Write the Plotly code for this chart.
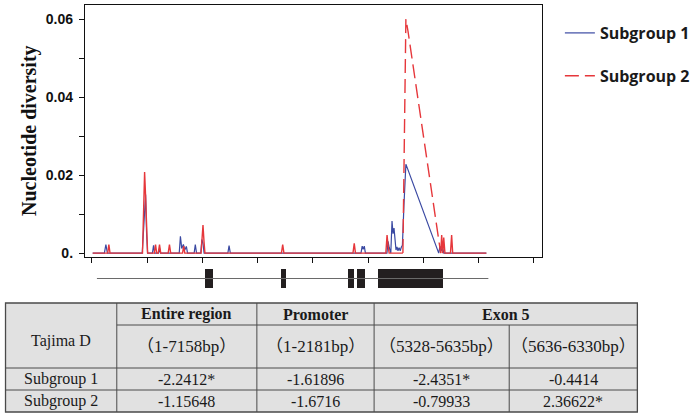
import plotly.graph_objects as go

# ---------------- data ----------------
# Subgroup 1 nucleotide diversity along the region (position bp, pi)
sub1_pos = [13, 225, 252, 280, 910, 935, 953, 971, 989, 1007,
            1095, 1115, 1135, 1205, 1223, 1241, 1580, 1601, 1625, 1655,
            1680, 1709, 1730, 1850, 1871, 1893, 1970, 1990, 2010, 2030,
            2460, 2482, 2505, 4870, 4892, 4910, 4930, 4950, 5340, 5360,
            5380, 5410, 5432, 5450, 5468, 5486, 5504, 5522, 5540, 5560,
            5580, 5600, 5620, 5647, 5665, 5683, 6277, 6300, 6320, 6345,
            6370, 7140]
sub1_pi = [0, 0, 0.0022, 0, 0, 0.006, 0.010, 0.015, 0.005, 0,
           0, 0.002, 0, 0, 0.0012, 0, 0, 0.0043, 0.0012, 0.0022,
           0.0008, 0.0017, 0, 0, 0.0022, 0, 0, 0.0035, 0.0025, 0,
           0, 0.0019, 0, 0, 0.0018, 0.001, 0.0018, 0, 0, 0.003,
           0.0015, 0, 0.0082, 0.005, 0.0064, 0.003, 0.0008, 0.0016, 0.0006, 0.0014,
           0.0006, 0.0015, 0.002, 0.012, 0.016, 0.0228, 0, 0.0018, 0.0005, 0.0015,
           0, 0]

# Subgroup 2
sub2_pos = [13, 285, 306, 327, 915, 935, 953, 971, 989, 1007,
            1130, 1151, 1172, 1200, 1223, 1245, 1380, 1403, 1425, 1640,
            1660, 1680, 1975, 1996, 2010, 2028, 2045, 3430, 3453, 3475,
            4725, 4748, 4770, 5320, 5342, 5360, 5380, 5629, 5683, 5720,
            6313, 6331, 6350, 6368, 6390, 6490, 6511, 6530, 7140]
sub2_pi = [0, 0, 0.0022, 0, 0, 0.0105, 0.0208, 0.0145, 0.005, 0,
           0, 0.0022, 0, 0, 0.0022, 0, 0, 0.0022, 0, 0,
           0.0018, 0, 0, 0.0045, 0.0072, 0.003, 0, 0, 0.0022, 0,
           0, 0.0025, 0, 0, 0.0046, 0.002, 0, 0, 0.060, 0.057,
           0, 0.0046, 0, 0.004, 0, 0, 0.0046, 0, 0]

# extent of the large exon-5 peak (drawn dashed in the original)
peak_lo, peak_hi = 5629, 6313

# gene structure (bp)
gene_span = [90, 7176]
exon_start = [2050, 3417, 4640, 4802, 5180]
exon_end = [2194, 3507, 4748, 4946, 6349]

# axis ticks
x_ticks = [0, 1000, 2000, 3000, 4000, 5000, 6000, 7000, 8000]
y_ticks = [0, 0.02, 0.04, 0.06]
y_ticktext = ["0.", "0.02", "0.04", "0.06"]
y_minor = [0.01, 0.03, 0.05]

# Tajima D table
table_corner = "Tajima D"
table_regions = ["Entire region", "Promoter", "Exon 5"]
table_ranges = ["（1-7158bp）", "（1-2181bp）", "（5328-5635bp）", "（5636-6330bp）"]
table_groups = ["Subgroup 1", "Subgroup 2"]
tajima_sub1 = ["-2.2412*", "-1.61896", "-2.4351*", "-0.4414"]
tajima_sub2 = ["-1.15648", "-1.6716", "-0.79933", "2.36622*"]

# ---------------- layout helpers ----------------
W, H = 700, 418
ML, MR, MT, MB = 85, 155, 5, 123
PW = W - ML - MR
PH = H - MT - MB


def px(xp):
    return (xp - ML) / PW


def py(yp):
    return (H - MB - yp) / PH


blue = "#3a49a2"
red = "#e6373b"

fig = go.Figure()

fig.add_trace(go.Scatter(x=sub1_pos, y=sub1_pi, mode="lines", name="Subgroup 1",
                         legendgroup="g1", line=dict(color=blue, width=1.2)))

solid_y = [None if peak_lo < p < peak_hi else v for p, v in zip(sub2_pos, sub2_pi)]
fig.add_trace(go.Scatter(x=sub2_pos, y=solid_y, mode="lines", showlegend=False,
                         legendgroup="g2", hoverinfo="skip",
                         line=dict(color=red, width=1.4)))
dash_x = [p for p in sub2_pos if peak_lo <= p <= peak_hi]
dash_y = [v for p, v in zip(sub2_pos, sub2_pi) if peak_lo <= p <= peak_hi]
fig.add_trace(go.Scatter(x=dash_x, y=dash_y, mode="lines", name="Subgroup 2",
                         legendgroup="g2", line=dict(color=red, width=1.4, dash="14px,6px")))

# gene model
fig.add_trace(go.Scatter(x=gene_span, y=[0, 0], yaxis="y2", mode="lines",
                         line=dict(color="#6a6a6a", width=1), showlegend=False, hoverinfo="skip"))
fig.add_trace(go.Bar(y=[0] * len(exon_start), x=[e - s for s, e in zip(exon_start, exon_end)],
                     base=exon_start, orientation="h", yaxis="y2", width=1.1,
                     marker=dict(color="#231f20", line=dict(width=0)), showlegend=False))

fig.update_layout(
    width=W, height=H,
    margin=dict(l=ML, r=MR, t=MT, b=MB),
    paper_bgcolor="white", plot_bgcolor="white",
    showlegend=True,
    legend=dict(x=px(563), y=py(16), xanchor="left", yanchor="top",
                font=dict(family="Open Sans", size=16, color="#1a1a1a", weight="bold"),
                tracegroupgap=19, bgcolor="rgba(0,0,0,0)", itemwidth=30),
    xaxis=dict(range=[-126, 8147], domain=[0, 1], anchor="y",
               showline=True, mirror=True, linecolor="#111", linewidth=1.3,
               ticks="outside", tickvals=x_ticks, ticklen=5, tickcolor="#111",
               showticklabels=False, showgrid=False, zeroline=False),
    yaxis=dict(range=[-0.001, 0.0636], domain=[py(257), 1], anchor="x",
               showline=True, mirror=True, linecolor="#111", linewidth=1.3,
               ticks="outside", tickvals=y_ticks, ticktext=y_ticktext, ticklen=5,
               tickcolor="#111", ticklabelstandoff=3,
               tickfont=dict(family="Liberation Sans", size=14, color="#111", weight="bold"),
               minor=dict(tickmode="array", tickvals=y_minor, ticks="outside", ticklen=5,
                          tickcolor="#111", showgrid=False),
               showgrid=False, zeroline=False),
    yaxis2=dict(domain=[0, py(262)], range=[-1, 1], anchor="x", visible=False),
    bargap=0,
)

fig.add_annotation(text="<b>Nucleotide diversity</b>", xref="paper", yref="paper",
                   x=px(15), y=py(130), textangle=-90, showarrow=False,
                   font=dict(family="Liberation Serif", size=20, color="#111"))

# ---------------- table ----------------
tx0, tx1 = 5, 641
ty0, ty1 = 303, 412
col_edges = [5, 117, 258, 376, 512, 641]
row_edges = [303, 325, 368, 390, 412]
lc = "#4a4a4a"
fig.add_shape(type="rect", xref="paper", yref="paper",
              x0=px(tx0), x1=px(tx1), y0=py(ty0), y1=py(ty1),
              fillcolor="#e1e1e1", line=dict(color=lc, width=1.3), layer="below")
seg = [
    (col_edges[1], row_edges[1], tx1, row_edges[1]),
    (tx0, row_edges[2], tx1, row_edges[2]),
    (tx0, row_edges[3], tx1, row_edges[3]),
    (col_edges[1], ty0, col_edges[1], ty1),
    (col_edges[2], ty0, col_edges[2], ty1),
    (col_edges[3], ty0, col_edges[3], ty1),
    (col_edges[4], row_edges[1], col_edges[4], ty1),
]
for a, b, c, d in seg:
    fig.add_shape(type="line", xref="paper", yref="paper",
                  x0=px(a), y0=py(b), x1=px(c), y1=py(d), line=dict(color=lc, width=1))

tfont = dict(family="Liberation Serif, Noto Sans CJK TC", size=16, color="#1a1a1a")
rfont = dict(family="Liberation Serif, Noto Sans CJK TC", size=17, color="#1a1a1a")


def cell(text, xc, yc, bold=False, font=tfont):
    fig.add_annotation(text=f"<b>{text}</b>" if bold else text, xref="paper", yref="paper",
                       x=px(xc), y=py(yc), showarrow=False, font=font,
                       xanchor="center", yanchor="middle")


ccent = [(col_edges[i] + col_edges[i + 1]) / 2 for i in range(5)]
cell(table_corner, ccent[0], 341)
cell(table_regions[0], ccent[1], 314, True)
cell(table_regions[1], ccent[2], 314, True)
cell(table_regions[2], (col_edges[3] + col_edges[5]) / 2, 314, True)
for i, t in enumerate(table_ranges):
    cell(t, ccent[i + 1], 346, font=rfont)
for r, (g, vals) in enumerate(zip(table_groups, [tajima_sub1, tajima_sub2])):
    yc = (row_edges[3 + r] + row_edges[2 + r]) / 2
    cell(g, ccent[0], yc)
    for i, v in enumerate(vals):
        cell(v, ccent[i + 1], yc)

fig.write_html("out.html", config={"displayModeBar": False},
               post_script="document.body.style.margin='0';document.body.style.overflow='hidden';")
